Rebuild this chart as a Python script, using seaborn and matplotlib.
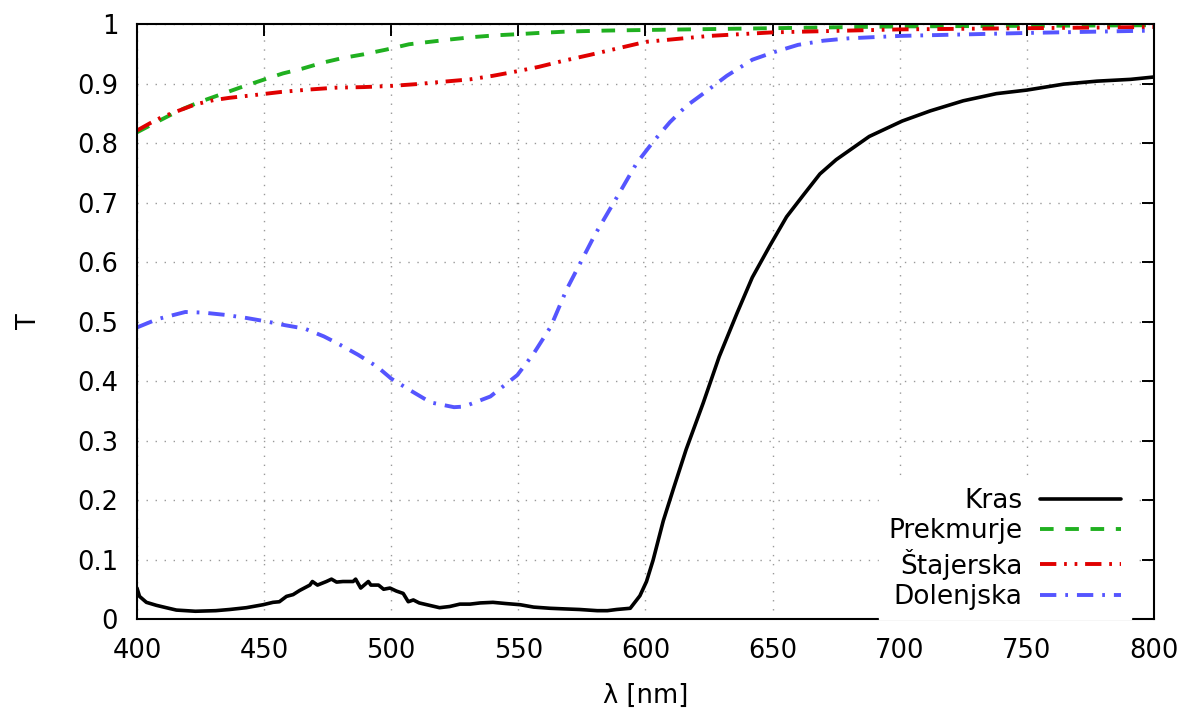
import numpy as np
import pandas as pd
import matplotlib
matplotlib.use("Agg")
import matplotlib.pyplot as plt
import seaborn as sns

# ---------------- data ----------------
kras_nm = [400, 401, 403.7, 407.6, 411.5, 415.5, 423, 431, 436.5, 443, 449.6, 453.5, 456,
           458.8, 461.4, 464, 468, 469, 471, 474.5, 476.5, 478.5, 481, 485, 486, 488, 491,
           492, 495, 497, 499.5, 502, 504.7, 506.7, 508.7, 511, 515, 519, 523, 527, 531,
           535, 540, 545, 550.7, 556, 562.5, 568, 574, 581, 585, 588.7, 594, 597.8, 600.4,
           603, 607, 611, 616, 622.7, 629, 636, 642, 649, 655.5, 662, 668.6, 675, 682, 688,
           695, 701, 712, 725, 738, 750, 764.5, 777.6, 790.8, 800]
kras_T = [0.052, 0.038, 0.028, 0.023, 0.019, 0.015, 0.013, 0.014, 0.016, 0.019, 0.024, 0.028,
          0.029, 0.038, 0.041, 0.048, 0.057, 0.063, 0.057, 0.063, 0.067, 0.062, 0.063, 0.063,
          0.067, 0.052, 0.063, 0.057, 0.057, 0.050, 0.052, 0.047, 0.043, 0.029, 0.032, 0.027,
          0.023, 0.019, 0.021, 0.025, 0.025, 0.027, 0.028, 0.026, 0.024, 0.020, 0.018, 0.017,
          0.016, 0.014, 0.014, 0.016, 0.018, 0.039, 0.063, 0.099, 0.165, 0.219, 0.285, 0.363,
          0.441, 0.514, 0.574, 0.628, 0.676, 0.712, 0.748, 0.772, 0.793, 0.811, 0.825, 0.837,
          0.854, 0.871, 0.883, 0.889, 0.899, 0.904, 0.907, 0.911]

prek_nm = [400, 407.6, 416.8, 424.6, 432.5, 440.4, 449.5, 457.4, 465, 473, 481, 489, 498,
           507, 515, 523, 532, 541, 550, 558, 567.5, 575, 584.5, 600, 650, 700, 750, 800]
prek_T = [0.818, 0.835, 0.855, 0.869, 0.881, 0.893, 0.906, 0.917, 0.925, 0.935, 0.943, 0.949,
          0.957, 0.966, 0.970, 0.974, 0.978, 0.981, 0.983, 0.985, 0.987, 0.988, 0.989, 0.990,
          0.993, 0.996, 0.997, 0.998]

staj_nm = [400, 405, 410, 416.8, 423, 430, 436.4, 447, 457, 468, 478, 489, 500, 510, 520.3,
           531, 540, 550, 558, 567.5, 578, 587, 600, 625, 650, 700, 750, 800]
staj_T = [0.821, 0.833, 0.844, 0.855, 0.865, 0.872, 0.876, 0.881, 0.886, 0.890, 0.893, 0.894,
          0.896, 0.899, 0.903, 0.907, 0.913, 0.921, 0.928, 0.938, 0.948, 0.957, 0.970, 0.980,
          0.986, 0.991, 0.993, 0.995]

dol_nm = [400, 408, 419, 426, 435, 443, 451, 458, 466, 473.5, 479, 487, 494.5, 500, 507.6,
          515.5, 524.7, 528.6, 539, 549.6, 556, 562.7, 569, 580, 590, 596.5, 603, 609.6, 616,
          622.7, 632, 642, 650, 660, 670, 680, 700, 750, 800]
dol_T = [0.490, 0.504, 0.516, 0.515, 0.511, 0.506, 0.500, 0.494, 0.488, 0.475, 0.463, 0.444,
         0.424, 0.404, 0.384, 0.364, 0.356, 0.357, 0.374, 0.410, 0.446, 0.491, 0.554, 0.645,
         0.718, 0.766, 0.802, 0.835, 0.862, 0.883, 0.913, 0.940, 0.952, 0.965, 0.972, 0.976,
         0.980, 0.985, 0.989]

names = ["Kras", "Prekmurje", "Štajerska", "Dolenjska"]
x_ticks = [400, 450, 500, 550, 600, 650, 700, 750, 800]
y_ticks = [0, 0.1, 0.2, 0.3, 0.4, 0.5, 0.6, 0.7, 0.8, 0.9, 1]
y_labels = ["0", "0.1", "0.2", "0.3", "0.4", "0.5", "0.6", "0.7", "0.8", "0.9", "1"]

# ---------------- plotting ----------------
sns.set_theme(style="white")
plt.rcParams["font.family"] = ["DejaVu Sans"]
plt.rcParams["text.color"] = "black"
plt.rcParams["axes.labelcolor"] = "black"

frames = []
for nm, t, n in [(kras_nm, kras_T, names[0]), (prek_nm, prek_T, names[1]),
                 (staj_nm, staj_T, names[2]), (dol_nm, dol_T, names[3])]:
    frames.append(pd.DataFrame({"nm": nm, "T": t, "name": n}))
df = pd.concat(frames, ignore_index=True)

fig = plt.figure(figsize=(11.86, 7.11), dpi=100)
ax = fig.add_axes([0.1155, 0.1294, 0.8575, 0.8368])

styles = {
    "Kras": dict(color="black", lw=2.6, dashes=None),
    "Prekmurje": dict(color="#20b020", lw=2.8, dashes=(3.5, 3.0)),
    "Štajerska": dict(color="#e00000", lw=2.8, dashes=(4.2, 2.0, 0.7, 2.0, 0.7, 2.0)),
    "Dolenjska": dict(color="#5555ff", lw=2.8, dashes=(4.2, 2.3, 0.7, 2.3)),
}

handles = []
for n in names:
    st = styles[n]
    sub = df[df["name"] == n]
    sns.lineplot(data=sub, x="nm", y="T", ax=ax, color=st["color"], lw=st["lw"],
                 estimator=None, sort=False, label=n, legend=False)
    line = ax.lines[-1]
    if st["dashes"] is not None:
        line.set_dashes(st["dashes"])
    handles.append(line)

FS = 18.5
ax.set_xlim(400, 800)
ax.set_ylim(0, 1)
ax.set_xticks(x_ticks)
ax.set_xticklabels([str(v) for v in x_ticks])
ax.set_yticks(y_ticks)
ax.set_yticklabels(y_labels)
ax.tick_params(axis="both", which="major", direction="in", length=8.5, width=1.4,
               labelsize=FS, top=True, right=True, pad=13.5, colors="black")
ax.grid(True, linestyle=(0, (1, 5.5)), color="#999999", lw=1.0)
for sp in ax.spines.values():
    sp.set_visible(True)
    sp.set_color("black")
    sp.set_linewidth(1.5)

ax.set_xlabel("λ [nm]", fontsize=FS, labelpad=14, color="black")
ax.set_ylabel("T", fontsize=FS, labelpad=25, color="black")

leg = ax.legend(handles=handles, labels=names, loc="lower right", markerfirst=False,
                frameon=True, fontsize=19, handlelength=3.1, handletextpad=0.65,
                labelspacing=0.16, borderpad=0.35, borderaxespad=0.0,
                bbox_to_anchor=(0.977, 0.0))
leg.get_frame().set_edgecolor("white")
leg.get_frame().set_facecolor("white")
leg.get_frame().set_alpha(1.0)
leg.get_frame().set_boxstyle("square", pad=0)
for txt in leg.get_texts():
    txt.set_ha("right")
    txt.set_color("black")
leg._legend_box.align = "right"

fig.savefig("out.png", dpi=100, facecolor="white")
